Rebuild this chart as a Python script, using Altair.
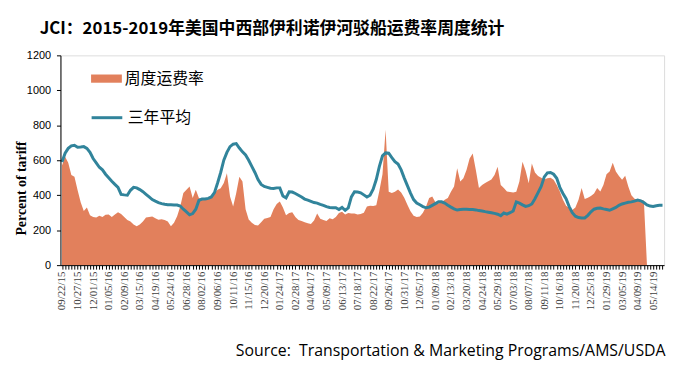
import altair as alt
import pandas as pd

# ---------------- data ----------------
start_date = "2015-09-22"

rates = [
    570, 620, 585, 515, 505, 430, 360, 310, 330, 285,
    275, 272, 282, 275, 288, 290, 275, 290, 302, 292,
    275, 258, 250, 232, 222, 232, 250, 272, 275, 278,
    268, 260, 262, 258, 250, 223, 242, 280, 336, 412,
    431, 450, 384, 431, 384, 378, 374, 376, 395, 412,
    431, 440, 470, 526, 393, 336, 412, 506, 478, 320,
    261, 242, 230, 227, 245, 265, 270, 275, 320, 350,
    364, 330, 285, 298, 303, 275, 258, 252, 245, 240,
    235, 255, 295, 265, 258, 252, 268, 262, 275, 298,
    305, 290, 298, 296, 295, 290, 292, 300, 335, 340,
    338, 342, 425, 520, 775, 420, 412, 420, 432, 415,
    385, 345, 308, 282, 276, 278, 300, 335, 384, 393,
    360, 352, 360, 374, 384, 420, 450, 554, 478, 497,
    544, 610, 639, 544, 441, 459, 470, 480, 490, 516,
    563, 459, 441, 421, 418, 416, 420, 478, 592, 540,
    469, 582, 530, 510, 500, 490, 497, 500, 488, 459,
    421, 374, 340, 327, 315, 330, 374, 441, 378, 385,
    395, 410, 441, 421, 459, 520, 535, 586, 535, 510,
    488, 512, 450, 400, 380, 374, 374, 370, 0, 0,
    0, 0, 0, 0,
]

avg3 = [
    590, 640, 668, 682, 686, 675, 676, 678, 668, 645,
    610, 585, 560, 545, 520, 500, 480, 462, 445, 405,
    402, 400, 428, 445, 442, 432, 420, 405, 390, 375,
    366, 358, 352, 348, 346, 345, 344, 344, 338, 320,
    305, 288, 295, 320, 370, 378, 378, 382, 390, 415,
    470, 530, 600, 645, 678, 692, 695, 670, 648, 630,
    600, 565, 530, 490, 462, 450, 445, 440, 438, 442,
    442, 395, 385, 420, 418, 410, 400, 390, 378, 372,
    365, 358, 355, 348, 342, 335, 330, 328, 328, 318,
    330, 314, 328, 390, 420, 418, 414, 402, 390, 400,
    435, 490, 565, 625, 642, 640, 615, 592, 578, 545,
    498, 455, 412, 375, 355, 345, 335, 328, 332, 342,
    352, 362, 362, 355, 343, 332, 322, 315, 318, 320,
    320, 318, 318, 316, 312, 310, 306, 303, 300, 296,
    291, 283, 298, 292, 300, 310, 362, 355, 345, 336,
    340, 350, 380, 415, 450, 505, 528, 530, 520, 497,
    445, 410, 380, 335, 300, 280, 272, 270, 270, 285,
    305, 320, 325, 327, 322, 318, 314, 322, 330, 342,
    350, 355, 360, 362, 366, 372, 368, 358, 345, 338,
    336, 340, 342, 342,
]

tick_labels = [
    "09/22/15", "10/27/15", "12/01/15", "01/05/16", "02/09/16", "03/15/16",
    "04/19/16", "05/24/16", "06/28/16", "08/02/16", "09/06/16", "10/11/16",
    "11/15/16", "12/20/16", "01/24/17", "02/28/17", "04/04/17", "05/09/17",
    "06/13/17", "07/18/17", "08/22/17", "09/26/17", "10/31/17", "12/05/17",
    "01/09/18", "02/13/18", "03/20/18", "04/24/18", "05/29/18", "07/03/18",
    "08/07/18", "09/11/18", "10/16/18", "11/20/18", "12/25/18", "01/29/19",
    "03/05/19", "04/09/19", "05/14/19",
]

y_ticks = [0, 200, 400, 600, 800, 1000, 1200]

series_rate = "周度运费率"
series_avg = "三年平均"
title_text = "JCI：2015-2019年美国中西部伊利诺伊河驳船运费率周度统计"
source_text = "Source:\u00a0 Transportation & Marketing Programs/AMS/USDA"

# ---------------- table ----------------
dates = pd.date_range(start_date, periods=len(rates), freq="7D")
df = pd.DataFrame({
    "date": dates,
    "rate": rates,
    "avg": avg3,
    "s_rate": series_rate,
    "s_avg": series_avg,
})

week_values = [alt.DateTime(year=d.year, month=d.month, date=d.day) for d in dates]
labels_js = "[" + ",".join("'" + t + "'" for t in tick_labels) + "]"
label_expr = (
    f"indexof({labels_js}, timeFormat(datum.value, '%m/%d/%y')) >= 0 "
    "? timeFormat(datum.value, '%m/%d/%y') : ''"
)

x_scale = alt.Scale(domain=[
    alt.DateTime(year=2015, month=9, date=18, hours=12),
    alt.DateTime(year=2019, month=6, date=7, hours=12),
])

x_axis = alt.Axis(
    values=week_values,
    labelExpr=label_expr,
    labelAngle=270,
    labelAlign="right",
    labelBaseline="middle",
    labelFont="Liberation Serif",
    labelFontSize=11,
    labelColor="#404040",
    labelPadding=2,
    labelOverlap=False,
    labelFlush=False,
    tickSize=4,
    tickColor="#000000",
    domainColor="#000000",
    grid=False,
    zindex=1,
    title=source_text,
    titleFont="Open Sans",
    titleFontSize=16,
    titleFontWeight="normal",
    titleColor="#000000",
    titleX=611,
    titleY=86,
    titleAlign="right",
    titleBaseline="middle",
)

y_axis = alt.Axis(
    values=y_ticks,
    format="d",
    grid=False,
    labelFont="Liberation Sans",
    labelFontSize=11,
    labelColor="#000000",
    labelPadding=6,
    tickSize=4,
    tickColor="#000000",
    domainColor="#000000",
    zindex=1,
    title="Percent of tariff",
    titleFont="Liberation Serif",
    titleFontSize=14,
    titleFontWeight="bold",
    titleColor="#000000",
    titleAngle=270,
    titleX=-39,
    titleY=134,
    titleAlign="center",
    titleBaseline="middle",
)

y_scale = alt.Scale(domain=[0, 1200], nice=False)

base = alt.Chart(df)

area = base.mark_area(opacity=1, interpolate="linear").encode(
    x=alt.X("date:T", scale=x_scale, axis=x_axis),
    y=alt.Y("rate:Q", scale=y_scale, axis=y_axis),
    fill=alt.Fill(
        "s_rate:N",
        scale=alt.Scale(range=["#E2805C"]),
        legend=alt.Legend(
            title=None,
            orient="none",
            legendX=36,
            legendY=13,
            padding=0,
            symbolType="M-1.5,-0.4H1.5V0.4H-1.5Z",
            symbolSize=430,
            symbolStrokeWidth=0,
            labelFont="Noto Sans CJK SC",
            labelFontSize=16,
            labelColor="#000000",
            labelOffset=8,
        ),
    ),
)

line = base.mark_line(strokeWidth=3, interpolate="linear").encode(
    x=alt.X("date:T", scale=x_scale, axis=x_axis),
    y=alt.Y("avg:Q", scale=y_scale, axis=y_axis),
    stroke=alt.Stroke(
        "s_avg:N",
        scale=alt.Scale(range=["#31849B"]),
        legend=alt.Legend(
            title=None,
            orient="none",
            legendX=30,
            legendY=46,
            padding=0,
            symbolType="stroke",
            symbolSize=961,
            symbolStrokeWidth=3,
            labelFont="Noto Sans CJK SC",
            labelFontSize=16,
            labelColor="#000000",
            labelOffset=4,
        ),
    ),
)

chart = (
    alt.layer(area, line)
    .properties(
        width=610,
        height=212,
        padding={"left": 53, "top": 46, "right": 8, "bottom": 94},
        autosize=alt.AutoSizeParams(type="none"),
        title=alt.TitleParams(
            text=title_text,
            font="Noto Sans CJK SC",
            fontSize=17,
            fontWeight="bold",
            color="#000000",
            anchor="start",
            frame="group",
            dx=-21,
            offset=12,
        ),
    )
    .configure_view(stroke="#7F7F7F", strokeWidth=1.5)
    .configure(background="white")
)

chart.save("out.html", embed_options={"renderer": "svg", "actions": False})
